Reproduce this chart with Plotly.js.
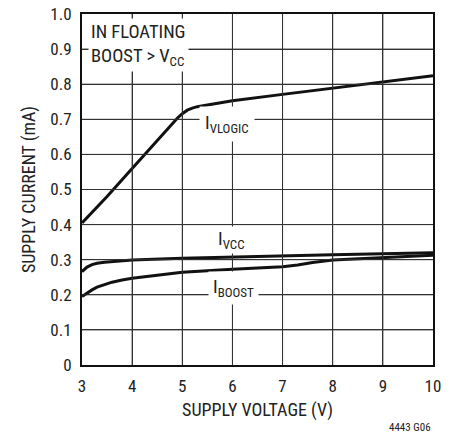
<!DOCTYPE html>
<html>
<head>
<meta charset="utf-8">
<script src="https://cdn.plot.ly/plotly-3.0.1.min.js"></script>
<style>html,body{margin:0;padding:0;background:#fff;}#chart{width:456px;height:436px;}</style>
</head>
<body>
<div id="chart"></div>
<script>
// Supply voltage (V) vs supply current (mA)
const vlogicX = [3, 3.5, 4, 4.5, 4.8, 4.9, 5.0, 5.1, 5.2, 5.3, 5.5, 6, 7, 8, 9, 10];
const vlogicY = [0.405, 0.48, 0.56, 0.64, 0.688, 0.703, 0.716, 0.726, 0.732, 0.736, 0.741, 0.753, 0.771, 0.789, 0.807, 0.824];
const vccX = [3, 3.05, 3.1, 3.2, 3.3, 3.45, 3.6, 4, 5, 6, 7, 8, 9, 10];
const vccY = [0.266, 0.273, 0.279, 0.286, 0.29, 0.293, 0.295, 0.299, 0.304, 0.308, 0.311, 0.314, 0.317, 0.32];
const boostX = [3, 3.1, 3.2, 3.3, 3.45, 3.6, 3.8, 4, 4.5, 5, 6, 7, 7.3, 7.6, 8, 9, 10];
const boostY = [0.195, 0.205, 0.214, 0.222, 0.23, 0.236, 0.242, 0.247, 0.256, 0.264, 0.273, 0.28, 0.285, 0.292, 0.299, 0.307, 0.313];
const xTicks = [3, 4, 5, 6, 7, 8, 9, 10];
const yTicks = [0, 0.1, 0.2, 0.3, 0.4, 0.5, 0.6, 0.7, 0.8, 0.9, 1.0];
const yTickText = ['0', '0.1', '0.2', '0.3', '0.4', '0.5', '0.6', '0.7', '0.8', '0.9', '1.0'];

const FONT = 'Roboto Condensed, Liberation Sans, Arial, sans-serif';
const lineStyle = {color: '#111', width: 3};
const GRID = '#333';

const traces = [
  {x: vlogicX, y: vlogicY, mode: 'lines', line: lineStyle},
  {x: vccX, y: vccY, mode: 'lines', line: lineStyle},
  {x: boostX, y: boostY, mode: 'lines', line: lineStyle}
];

// grid lines built from the tick arrays, placed through the axes' own scales
const gridShapes = []
  .concat(xTicks.slice(1, -1).map(v => ({type: 'line', xref: 'x', yref: 'paper', x0: v, x1: v, y0: 0, y1: 1,
    layer: 'above', line: {color: GRID, width: 1}})))
  .concat(yTicks.slice(1, -1).map(v => ({type: 'line', xref: 'paper', yref: 'y', x0: 0, x1: 1, y0: v, y1: v,
    layer: 'above', line: {color: GRID, width: 1}})));

const axisCommon = {
  showgrid: true, gridcolor: GRID, gridwidth: 1,
  zeroline: false, showline: true, linecolor: '#111', linewidth: 2,
  mirror: true, ticks: 'outside', ticklen: 5, tickcolor: 'rgba(0,0,0,0)',
  tickfont: {family: FONT, size: 17, color: '#222'},
  fixedrange: true
};

const layout = {
  width: 456, height: 436,
  margin: {l: 81.5, r: 23, t: 13.5, b: 71.3},
  showlegend: false,
  xaxis: Object.assign({}, axisCommon, {
    range: [3, 10], tickvals: xTicks,
    title: {text: 'SUPPLY VOLTAGE (V)', font: {family: FONT, size: 18, color: '#222'}, standoff: 8}
  }),
  yaxis: Object.assign({}, axisCommon, {
    range: [0, 1.0], tickvals: yTicks, ticktext: yTickText,
    title: {text: 'SUPPLY CURRENT (mA)', font: {family: FONT, size: 18, color: '#222'}, standoff: 10}
  }),
  shapes: gridShapes,
  annotations: [
    {xref: 'paper', yref: 'paper', x: 0.018, y: 0.988, xanchor: 'left', yanchor: 'top', align: 'left',
     text: 'IN FLOATING<br>BOOST > V<sub>CC</sub>', showarrow: false, bgcolor: '#fff',
     font: {family: FONT, size: 18.5, color: '#222'}, borderpad: 2},
    {xref: 'x', yref: 'y', x: 5.9, y: 0.688, text: 'I<sub>VLOGIC</sub>', showarrow: false, bgcolor: '#fff',
     font: {family: FONT, size: 18.5, color: '#222'}, borderpad: 5},
    {xref: 'x', yref: 'y', x: 5.98, y: 0.357, text: 'I<sub>VCC</sub>', showarrow: false, bgcolor: '#fff',
     font: {family: FONT, size: 18.5, color: '#222'}, borderpad: 1},
    {xref: 'x', yref: 'y', x: 6.02, y: 0.22, text: 'I<sub>BOOST</sub>', showarrow: false, bgcolor: '#fff',
     font: {family: FONT, size: 18.5, color: '#222'}, borderpad: 4},
    {xref: 'paper', yref: 'paper', x: 1.0, y: -0.155, xanchor: 'right', yanchor: 'top',
     text: '4443 G06', showarrow: false, font: {family: FONT, size: 11, color: '#222'}}
  ]
};

Plotly.newPlot('chart', traces, layout, {staticPlot: true, displayModeBar: false});
</script>
</body>
</html>
